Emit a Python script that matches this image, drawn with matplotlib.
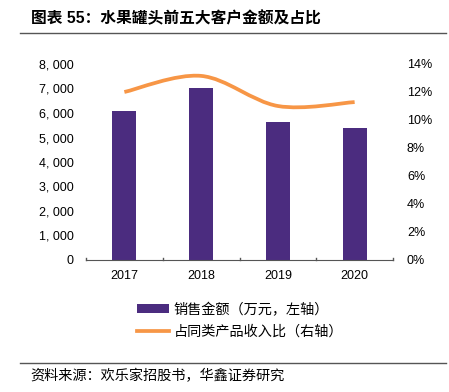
import matplotlib
matplotlib.use('Agg')
import matplotlib.pyplot as plt
from matplotlib.path import Path
from matplotlib.patches import PathPatch
from matplotlib.lines import Line2D
from matplotlib.patches import Patch
import numpy as np

plt.rcParams['font.family'] = ['Liberation Sans', 'Noto Sans CJK SC', 'DejaVu Sans']

# data
years = ['2017', '2018', '2019', '2020']
sales = [6080, 7020, 5630, 5390]          # 万元
share = [0.120, 0.1315, 0.110, 0.1128]    # 占同类产品收入比
left_ticks = [0, 1000, 2000, 3000, 4000, 5000, 6000, 7000, 8000]
right_ticks = [0, 0.02, 0.04, 0.06, 0.08, 0.10, 0.12, 0.14]

purple = '#4B2C7F'
orange = '#F79646'

fig = plt.figure(figsize=(4.49, 3.92), dpi=100)
ax = fig.add_axes([86/449, 1-260/392, (393-86)/449, 196/392])
x = np.arange(len(years))
ax.bar(x, sales, width=0.31, color=purple, zorder=2)
ax.set_xlim(-0.5, len(years)-0.5)
ax.set_ylim(0, 8000)
ax.set_yticks(left_ticks)
ax.set_yticklabels(['{:,}'.format(v).replace(',', ', ') for v in left_ticks])
ax.set_xticks(x)
ax.set_xticklabels(years)
for s in ['top', 'right', 'left']:
    ax.spines[s].set_visible(False)
ax.spines['bottom'].set_color('#555555')
ax.tick_params(axis='y', length=0, labelsize=9, pad=9)
ax.tick_params(axis='x', length=0, labelsize=9, pad=7)
# small upward ticks on category boundaries
for b in np.arange(-0.5, len(years), 1.0):
    ax.plot([b, b], [0, 90], color='#555555', lw=1, clip_on=False, zorder=3)

ax2 = ax.twinx()
ax2.set_ylim(0, 0.14)
ax2.set_yticks(right_ticks)
ax2.set_yticklabels(['{:.0f}%'.format(v*100) for v in right_ticks])
ax2.tick_params(axis='y', length=0, labelsize=9, pad=10)
for s in ['top', 'right', 'left', 'bottom']:
    ax2.spines[s].set_visible(False)

# smooth line drawn as bezier path through the data points
pts = np.column_stack([x, share])
verts = [tuple(pts[0])]
codes = [Path.MOVETO]
for i in range(len(pts)-1):
    p0 = pts[i-1] if i > 0 else pts[i]
    p1, p2 = pts[i], pts[i+1]
    p3 = pts[i+2] if i+2 < len(pts) else pts[i+1]
    c1 = p1 + (p2 - p0) / 6
    c2 = p2 - (p3 - p1) / 6
    verts += [tuple(c1), tuple(c2), tuple(p2)]
    codes += [Path.CURVE4]*3
ax2.add_patch(PathPatch(Path(verts, codes), fill=False, edgecolor=orange, lw=2.7, capstyle='butt'))

# title and rules
fig.text(31/449, 1-18/392, '图表 55：水果罐头前五大客户金额及占比', fontsize=11.3, fontweight='bold',
         va='center', ha='left')
fig.add_artist(Line2D([20/449, 446/449], [1-33/392]*2, color='#555555', lw=1))
fig.add_artist(Line2D([20/449, 446/449], [1-363/392]*2, color='#555555', lw=1))
fig.text(30/449, 1-376/392, '资料来源：欢乐家招股书，华鑫证券研究', fontsize=10.2, va='center', ha='left')

handles = [Patch(facecolor=purple), Line2D([], [], color=orange, lw=2.7)]
fig.legend(handles, ['销售金额（万元，左轴）', '占同类产品收入比（右轴）'],
           loc='upper left', bbox_to_anchor=(124/449, 1-290/392), frameon=False,
           fontsize=10.2, handlelength=2.3, handleheight=0.6, labelspacing=0.55, handletextpad=0.3)

plt.savefig('out.png', dpi=100)
